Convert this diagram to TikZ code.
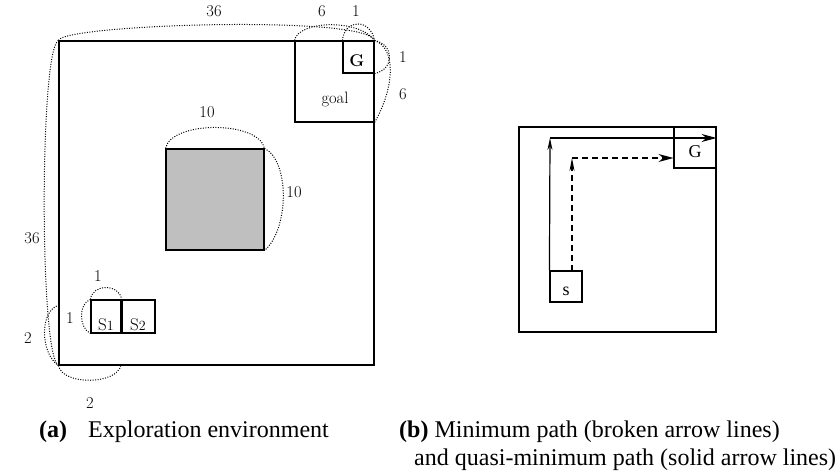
\documentclass[tikz,border=0pt]{standalone}
\usepackage{fontspec}
\newfontfamily\capfont{Liberation Serif}
\usetikzlibrary{arrows.meta}

\begin{document}
\begin{tikzpicture}[x=1pt, y=-1pt,
    box/.style={draw, line width=1.1pt, inner sep=0pt},
    dim/.style={line width=1pt, dash pattern=on 1pt off 1.5pt},
    num/.style={font=\fontsize{16.5}{18}\selectfont},
    rlbl/.style={font=\capfont\fontsize{18}{20}\selectfont, inner sep=0pt},
    route/.style={line width=1.2pt},
    captxt/.style={font=\capfont\fontsize{24}{29}\selectfont, anchor=base west, inner sep=0pt}]
  \useasboundingbox (0,0) rectangle (838,474);

  % Exploration environment
  \node[box, minimum width=315pt, minimum height=324pt] (env) at (216.5,203) {};
  \node[box, minimum width=79pt, minimum height=81pt] (goal) at (334.5,81.5) {};
  \node[box, minimum width=31pt, minimum height=32pt] (gcell) at (358.5,57) {};
  \node[box, fill=black!25, minimum width=98pt, minimum height=101pt] (obst) at (215,199.5) {};
  \node[box, minimum width=30pt, minimum height=33pt] (sone) at (106,316.5) {};
  \node[box, minimum width=33pt, minimum height=33pt] (stwo) at (138.5,316.5) {};
  \node[num] (goallbl) at (335,99) {goal};
  \node[num, font=\bfseries\fontsize{17}{18}\selectfont] (glbl) at (357,61) {G};
  \node[num, anchor=base, font=\fontsize{17}{18}\selectfont] (sonelbl) at (106,330) {S{\fontsize{14}{14}\selectfont 1}};
  \node[num, anchor=base, font=\fontsize{17}{18}\selectfont] (stwolbl) at (138,330) {S{\fontsize{14}{14}\selectfont 2}};

  % Dimension lines
  \coordinate (twotop) at (59,305);
  \coordinate (twoend) at (121,365);
  \draw[dim] (env.north west) .. controls +(4,-16) and +(-9,-26) .. (env.north east);
  \draw[dim] (env.north west) .. controls +(-19,9) and +(-19,-10) .. (env.south west);
  \draw[dim] (goal.north west) .. controls +(4,-20) and +(-16,-22) .. (goal.north east);
  \draw[dim] (gcell.north west) .. controls +(2,-22) and +(-4,-22) .. (gcell.north east);
  \draw[dim] (gcell.north east) .. controls +(20,4) and +(20,-4) .. (gcell.south east);
  \draw[dim] (goal.north east) .. controls +(22,8) and +(20,-35) .. (goal.south east);
  \draw[dim] (obst.north west) .. controls +(6,-28) and +(-6,-28) .. (obst.north east);
  \draw[dim] (obst.north east) .. controls +(25,12) and +(25,-22) .. (obst.south east);
  \draw[dim] (sone.north west) .. controls +(2,-16) and +(-2,-16) .. (sone.north east);
  \draw[dim] (sone.north west) .. controls +(-12,4) and +(-12,-6) .. (sone.south west);
  \draw[dim] (twotop) .. controls +(-20,6) and +(-18,-12) .. (env.south west);
  \draw[dim] (env.south west) .. controls +(4,20) and +(-4,20) .. (twoend);

  \node[num] (n36top) at (214,11) {36};
  \node[num] (n6top) at (322,11) {6};
  \node[num] (n1top) at (356,11) {1};
  \node[num] (n1right) at (403,57) {1};
  \node[num] (n6right) at (403,94) {6};
  \node[num] (n10top) at (207,112) {10};
  \node[num] (n10right) at (294,192) {10};
  \node[num] (n36left) at (32,238) {36};
  \node[num] (n1stop) at (98,276) {1};
  \node[num] (n1sleft) at (70,318) {1};
  \node[num] (n2left) at (28,338) {2};
  \node[num] (n2bottom) at (90,403) {2};

  % Paths to the goal
  \node[box, minimum width=197pt, minimum height=205pt] (env2) at (617.5,229.5) {};
  \node[box, minimum width=42pt, minimum height=41pt] (gcell2) at (695,147.5) {};
  \node[box, minimum width=32pt, minimum height=31pt] (start) at (566,286.5) {};
  \node[rlbl] (g2lbl) at (695,152) {G};
  \node[rlbl] (startlbl) at (566,291) {s};

  \coordinate (solidturn) at (550,138);
  \coordinate (dashfoot) at (572,271);
  \coordinate (dashturn) at (572,158);
  \draw[route, -{Stealth[length=12pt, width=5pt]}] (start.north west) -- (solidturn);
  \draw[route, -{Stealth[length=15pt, width=8pt]}] (solidturn) -- (solidturn -| env2.east);
  \draw[route, dash pattern=on 6pt off 4pt, -{Stealth[length=13pt, width=5pt]}] (dashfoot) -- (dashturn);
  \draw[route, dash pattern=on 6pt off 4pt, -{Stealth[length=15pt, width=8pt]}] (dashturn) -- (dashturn -| gcell2.west);

  % Captions
  \node[captxt, font=\capfont\bfseries\fontsize{24}{29}\selectfont] (capa) at (39,437) {(a)};
  \node[captxt] (capatext) at (88,437) {Exploration environment};
  \node[captxt] (capb) at (399,437) {\textbf{(b)} Minimum path (broken arrow lines)};
  \node[captxt] (capbtwo) at (414,465) {and quasi-minimum path (solid arrow lines)};
\end{tikzpicture}
\end{document}
